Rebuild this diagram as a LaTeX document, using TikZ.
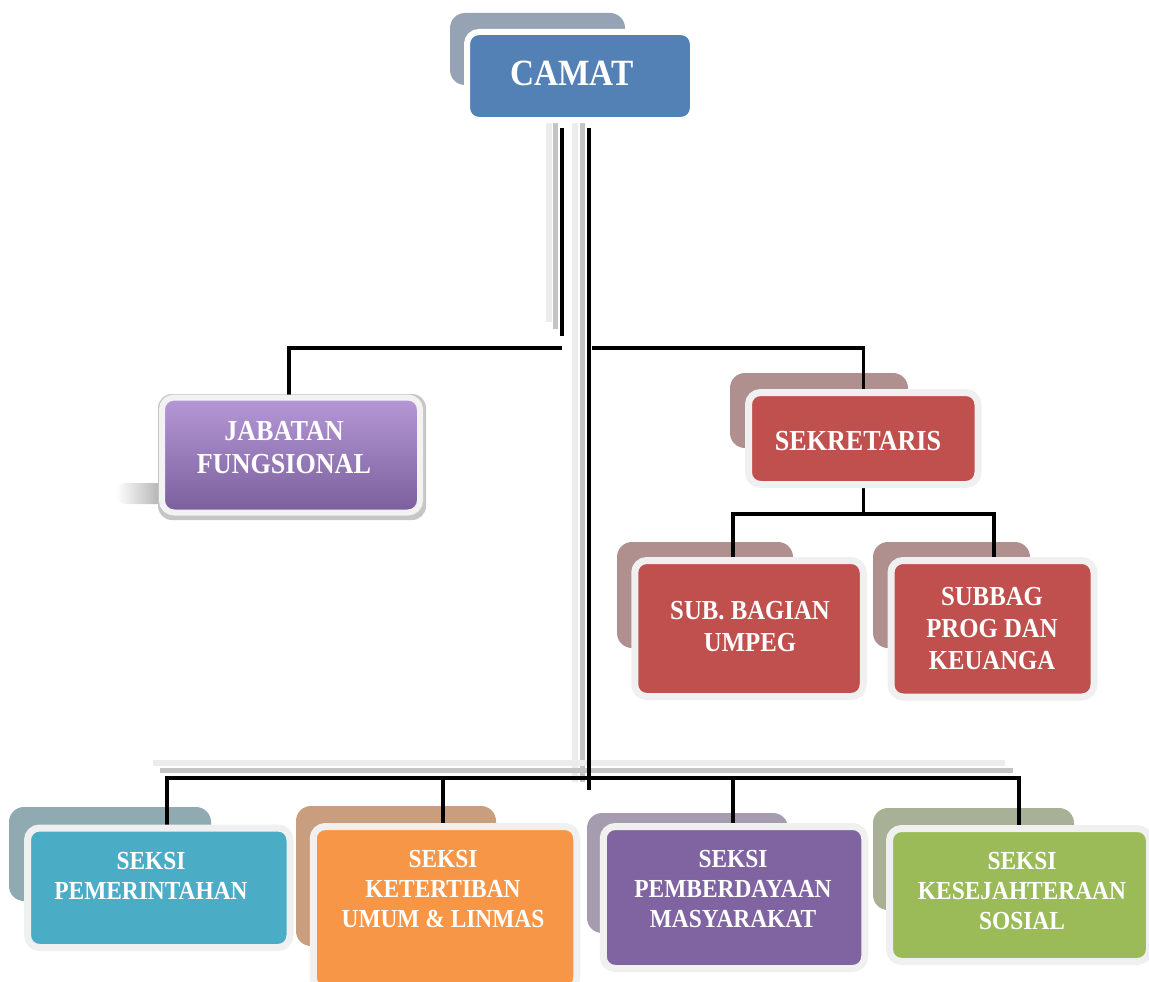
\documentclass[tikz,border=0pt]{standalone}
\usepackage{fontspec}
\setmainfont{Liberation Serif}[FakeStretch=0.9]
\definecolor{camatblue}{RGB}{83,129,182}
\definecolor{camatsh}{RGB}{149,163,180}
\definecolor{redbox}{RGB}{192,80,77}
\definecolor{redsh}{RGB}{176,144,143}
\definecolor{tealbox}{RGB}{75,172,198}
\definecolor{tealsh}{RGB}{143,170,177}
\definecolor{orangebox}{RGB}{247,150,70}
\definecolor{orangesh}{RGB}{201,158,126}
\definecolor{purplebox}{RGB}{128,100,162}
\definecolor{purplesh}{RGB}{165,156,175}
\definecolor{greenbox}{RGB}{155,187,89}
\definecolor{greensh}{RGB}{168,176,149}
\definecolor{boxborder}{RGB}{240,240,240}
\definecolor{jabtop}{RGB}{182,152,214}
\definecolor{jabmid}{RGB}{162,131,196}
\definecolor{jabbot}{RGB}{122,95,156}
\definecolor{lightline}{RGB}{236,236,236}
\definecolor{grayline}{RGB}{196,196,196}
\pgfdeclarelayer{shadows}
\pgfdeclarelayer{lines}
\pgfsetlayers{shadows,lines,main}
\begin{document}
\begin{tikzpicture}[x=1pt,y=-1pt,
  box/.style={draw=boxborder, line width=7pt, rounded corners=12pt, inner sep=0pt},
  lbl/.style={text=white, font=\bfseries\fontsize{26}{30}\selectfont, align=center, inner sep=0pt},
  shbox/.style={rounded corners=15pt},
  conn/.style={line width=3.5pt, black},
  softline/.style={line width=6pt, lightline},
  midline/.style={line width=5pt, grayline}]
\useasboundingbox (0,0) rectangle (1149,982);
\clip (0,0) rectangle (1149,982);

% main boxes
\node[box, draw=white, line width=6pt, fill=camatblue, minimum width=226pt, minimum height=88pt] (camat) at (580,76) {};
\node[box, fill=redbox, minimum width=229.5pt, minimum height=92pt] (sekretaris) at (863.25,438.5) {};
\node[box, fill=redbox, minimum width=228.5pt, minimum height=136pt] (subbagian) at (749,628.5) {};
\node[box, fill=redbox, minimum width=203pt, minimum height=136.5pt] (subbag) at (992.5,628.75) {};
\node[box, draw=gray!10, line width=6pt, top color=jabtop, middle color=jabmid, bottom color=jabbot, minimum width=258pt, minimum height=115pt] (jabatan) at (291,455) {};
\node[box, fill=tealbox, minimum width=262.5pt, minimum height=119.5pt] (pemerintahan) at (158.75,887.75) {};
\node[box, fill=orangebox, minimum width=263.5pt, minimum height=163pt] (ketertiban) at (445,908) {};
\node[box, fill=purplebox, minimum width=261.5pt, minimum height=142pt] (pemberdayaan) at (734,897.5) {};
\node[box, fill=greenbox, minimum width=260pt, minimum height=133pt] (kesejahteraan) at (1019.5,895) {};

% labels
\node[lbl, font=\bfseries\fontsize{37}{40}\selectfont] (camatT) at (572,73) {CAMAT};
\node[lbl, font=\bfseries\fontsize{29}{32}\selectfont] (sekretarisT) at (858,441) {SEKRETARIS};
\node[lbl, font=\bfseries\fontsize{27.5}{32}\selectfont] (subbagianT) at (750,627) {SUB. BAGIAN\\UMPEG};
\node[lbl, font=\bfseries\fontsize{27.5}{32}\selectfont] (subbagT) at (992,629) {SUBBAG\\PROG DAN\\KEUANGA};
\node[lbl, font=\bfseries\fontsize{29}{33}\selectfont] (jabatanT) at (284,448) {JABATAN\\FUNGSIONAL};
\node[lbl] (pemerintahanT) at (151,876) {SEKSI\\PEMERINTAHAN};
\node[lbl] (ketertibanT) at (443,889) {SEKSI\\KETERTIBAN\\UMUM \& LINMAS};
\node[lbl] (pemberdayaanT) at (733,889) {SEKSI\\PEMBERDAYAAN\\MASYARAKAT};
\node[lbl] (kesejahteraanT) at (1022,891) {SEKSI\\KESEJAHTERAAN\\SOSIAL};

% back (shadow) boxes
\begin{pgfonlayer}{shadows}
\fill[camatsh, shbox] (450,13) rectangle (625,85);
\fill[redsh, shbox] (730,373) rectangle (908,448);
\fill[redsh, shbox] (617,542) rectangle (793,648);
\fill[redsh, shbox] (873,542) rectangle (1030,648);
\fill[tealsh, shbox] (9,807) rectangle (211,901);
\fill[orangesh, shbox] (296,806) rectangle (496,946);
\fill[purplesh, shbox] (587,813) rectangle (788,933);
\fill[greensh, shbox] (873,808) rectangle (1074,910);
% soft shadow of JABATAN FUNGSIONAL
\shade[left color=white, right color=gray!75, rounded corners=9pt] (116,483) rectangle (172,504);
\fill[gray!45, rounded corners=14pt] (158,394) rectangle (426,520);
\end{pgfonlayer}

% named coordinates of the connector bends
\coordinate (cL) at (562,128);
\coordinate (cLend) at (562,336);
\coordinate (hl) at (289,348);
\coordinate (hlr) at (562,348);
\coordinate (hr) at (592,348);
\coordinate (cM) at (589,128);
\coordinate (busEnd) at (589,790);
\coordinate (s1) at (733,514);
\coordinate (s2) at (994,514);
\coordinate (b1) at (167,778);
\coordinate (b2) at (443,778);
\coordinate (b3) at (733,778);
\coordinate (b4) at (1019,778);

\begin{pgfonlayer}{lines}
% grey doubled strokes
\draw[softline] (548.5,113) -- (548.5,322);
\draw[midline] (555,121) -- (555,329);
\draw[softline] (575,113) -- (575,782);
\draw[midline] (582,121) -- (582,782);
\draw[softline] (153,763) -- (1005,763);
\draw[midline] (160,770) -- (1013,770);
% connectors
\draw[conn] (cL) -- (cLend);
\draw[conn] (hlr) -- (hl) -- (hl |- jabatan.north);
\draw[conn] (hr) -| (sekretaris.north);
\draw[conn] (cM) -- (busEnd);
\draw[conn] (sekretaris.south) -- (sekretaris.south |- s1);
\draw[conn] (s1 |- subbagian.north) -- (s1) -- (s2) -- (s2 |- subbag.north);
\draw[conn] (b1 |- pemerintahan.north) -- (b1) -- (b4) -- (b4 |- kesejahteraan.north);
\draw[conn] (b2) -- (b2 |- ketertiban.north);
\draw[conn] (b3) -- (b3 |- pemberdayaan.north);
\end{pgfonlayer}
\end{tikzpicture}
\end{document}
